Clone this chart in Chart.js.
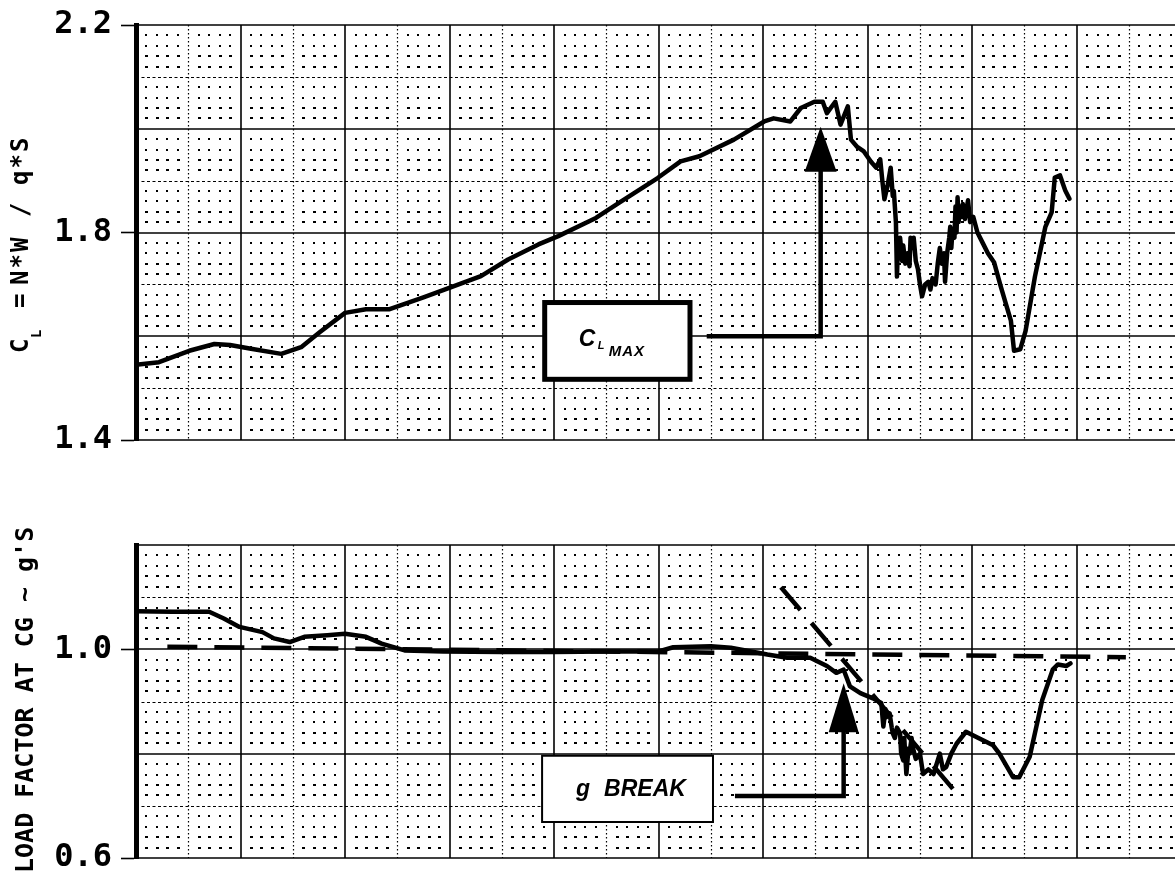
<!DOCTYPE html>
<html>
<head>
<meta charset="utf-8">
<script src="https://cdn.jsdelivr.net/npm/chart.js@4.4.1/dist/chart.umd.min.js"></script>
<style>
  body { margin: 0; background: #fff; }
  canvas { position: absolute; left: 0; display: block; }
  #cl-chart { top: 0; }
  #nz-chart { top: 460px; }
</style>
</head>
<body>
<canvas id="cl-chart" width="1175" height="460"></canvas>
<canvas id="nz-chart" width="1175" height="418"></canvas>
<script>
// time axis has no labels in the original, so x is in grid units (one solid line = 1)
const clX = [0, 0.22, 0.51, 0.75, 0.90, 1.10, 1.39, 1.58, 1.76, 2.00, 2.20, 2.42, 2.75, 3.01, 3.30, 3.56, 3.85, 4.04,
  4.40, 4.62, 4.99, 5.21, 5.39, 5.72, 6.01, 6.10, 6.26, 6.36, 6.49, 6.57, 6.61, 6.69, 6.74, 6.81, 6.84, 6.90, 6.96,
  7.03, 7.08, 7.12, 7.14, 7.16, 7.19, 7.22, 7.24, 7.25, 7.27, 7.28, 7.29, 7.30, 7.31, 7.33, 7.34, 7.36, 7.38, 7.40,
  7.41, 7.43, 7.44, 7.46, 7.48, 7.50, 7.52, 7.55, 7.58, 7.60, 7.62, 7.65, 7.67, 7.69, 7.71, 7.73, 7.74, 7.76, 7.78,
  7.79, 7.80, 7.81, 7.83, 7.84, 7.85, 7.86, 7.87, 7.88, 7.90, 7.91, 7.93, 7.95, 7.96, 7.98, 8.01, 8.05, 8.10,
  8.15, 8.21, 8.27, 8.32, 8.37, 8.40, 8.46, 8.51, 8.60, 8.70, 8.76, 8.79, 8.84, 8.89, 8.93];
const clY = [1.545, 1.550, 1.572, 1.585, 1.583, 1.576, 1.566, 1.579, 1.608, 1.645, 1.652, 1.652, 1.675, 1.694, 1.716,
  1.748, 1.777, 1.793, 1.828, 1.857, 1.905, 1.937, 1.947, 1.979, 2.014, 2.020, 2.014, 2.040, 2.052, 2.052, 2.030,
  2.052, 2.008, 2.043, 1.979, 1.965, 1.957, 1.937, 1.925, 1.941, 1.900, 1.864, 1.890, 1.925, 1.870, 1.880, 1.820,
  1.715, 1.780, 1.750, 1.790, 1.745, 1.775, 1.740, 1.760, 1.735, 1.790, 1.770, 1.790, 1.745, 1.730, 1.700, 1.677,
  1.700, 1.705, 1.690, 1.712, 1.700, 1.740, 1.770, 1.740, 1.760, 1.705, 1.760, 1.790, 1.811, 1.770, 1.800, 1.790,
  1.850, 1.800, 1.868, 1.820, 1.850, 1.830, 1.855, 1.826, 1.850, 1.862, 1.820, 1.830, 1.800, 1.780, 1.760, 1.742,
  1.698, 1.664, 1.630, 1.572, 1.575, 1.610, 1.715, 1.811, 1.839, 1.906, 1.910, 1.881, 1.865];

const nzX = [0, 0.35, 0.70, 0.84, 0.99, 1.21, 1.32, 1.47, 1.61, 1.83, 2.00, 2.20, 2.35, 2.57, 2.94, 3.50, 4.00, 4.50,
  5.00, 5.14, 5.50, 5.69, 6.04, 6.23, 6.45, 6.61, 6.70, 6.77, 6.83, 6.93, 7.05, 7.13, 7.15, 7.17, 7.18, 7.21, 7.23,
  7.24, 7.26, 7.28, 7.31, 7.32, 7.34, 7.35, 7.37, 7.39, 7.40, 7.42, 7.43, 7.46, 7.50, 7.53, 7.58, 7.63, 7.69, 7.72,
  7.75, 7.80, 7.85, 7.94, 8.04, 8.20, 8.26, 8.39, 8.45, 8.55, 8.67, 8.77, 8.82, 8.90, 8.94];
const nzY = [1.073, 1.072, 1.072, 1.059, 1.043, 1.033, 1.021, 1.014, 1.024, 1.027, 1.030, 1.024, 1.011, 0.998, 0.996,
  0.995, 0.995, 0.996, 0.996, 1.004, 1.006, 1.003, 0.990, 0.984, 0.984, 0.968, 0.955, 0.961, 0.929, 0.916, 0.906,
  0.897, 0.852, 0.885, 0.870, 0.877, 0.850, 0.839, 0.830, 0.850, 0.839, 0.800, 0.787, 0.830, 0.761, 0.810, 0.800,
  0.830, 0.813, 0.790, 0.800, 0.761, 0.770, 0.761, 0.800, 0.770, 0.774, 0.800, 0.819, 0.842, 0.832, 0.816, 0.800,
  0.755, 0.755, 0.794, 0.903, 0.961, 0.971, 0.968, 0.973];

// fairing lines on the load factor plot
const oneGX = [0.30, 9.47];
const oneGY = [1.005, 0.985];
const breakX = [6.17, 7.83];
const breakY = [1.119, 0.729];

const clTicks = [1.4, 1.8, 2.2];
const nzTicks = [0.6, 1.0];

// callouts: box [x0, x1, y0, y1] and leader path ending at the arrow tip
const clMaxBox = [3.91, 5.30, 1.517, 1.665];
const clMaxPath = [[5.46, 1.6], [6.55, 1.6], [6.55, 2.004]];
const gBreakBox = [3.885, 5.52, 0.669, 0.796];
const gBreakPath = [[5.73, 0.719], [6.77, 0.719], [6.77, 0.935]];

const toPts = (xs, ys) => xs.map((v, i) => ({x: v, y: ys[i]}));

const paperGrid = {
  id: 'paperGrid',
  beforeDatasetsDraw(chart, args, opts) {
    const {ctx, chartArea: a, scales: {x, y}} = chart;
    ctx.save();
    ctx.beginPath();
    ctx.rect(a.left, a.top - 2, a.right - a.left + 2, a.bottom - a.top + 4);
    ctx.clip();
    ctx.fillStyle = '#000';
    ctx.strokeStyle = '#000';
    const cols = Math.floor(x.max * 10 + 0.001);
    // minor dots
    for (let i = 0; i <= cols; i++) {
      if (i % 5 === 0) continue;
      const px = x.getPixelForValue(i / 10);
      for (let k = 0; k <= opts.rows; k++) {
        if (k % 5 === 0) continue;
        const py = y.getPixelForValue(opts.yMin + k * 0.02);
        ctx.fillRect(Math.round(px) - 1, Math.round(py) - 1, (k % 5 < 3) ? 3 : 2, 2);
      }
    }
    // dotted half lines
    ctx.lineWidth = 1.2;
    ctx.setLineDash([1.6, 2.4]);
    for (let i = 5; i <= cols; i += 10) {
      const px = Math.round(x.getPixelForValue(i / 10)) + 0.5;
      ctx.beginPath(); ctx.moveTo(px, a.top); ctx.lineTo(px, a.bottom); ctx.stroke();
    }
    ctx.setLineDash([3, 2.5]);
    for (let k = 5; k <= opts.rows; k += 10) {
      const py = Math.round(y.getPixelForValue(opts.yMin + k * 0.02)) + 0.5;
      ctx.beginPath(); ctx.moveTo(a.left, py); ctx.lineTo(a.right, py); ctx.stroke();
    }
    // solid major lines
    ctx.setLineDash([]);
    ctx.lineWidth = 1.6;
    for (let i = 10; i <= cols; i += 10) {
      const px = Math.round(x.getPixelForValue(i / 10));
      ctx.beginPath(); ctx.moveTo(px, a.top); ctx.lineTo(px, a.bottom); ctx.stroke();
    }
    for (let k = 0; k <= opts.rows; k += 10) {
      const py = Math.round(y.getPixelForValue(opts.yMin + k * 0.02));
      ctx.beginPath(); ctx.moveTo(a.left, py); ctx.lineTo(a.right, py); ctx.stroke();
    }
    ctx.restore();
  }
};

const callouts = {
  id: 'callouts',
  afterDatasetsDraw(chart, args, opts) {
    const {ctx, scales: {x, y}} = chart;
    const b = opts.box;
    const l = x.getPixelForValue(b[0]), r = x.getPixelForValue(b[1]);
    const t = y.getPixelForValue(b[3]), bt = y.getPixelForValue(b[2]);
    ctx.save();
    ctx.fillStyle = '#fff';
    ctx.fillRect(l, t, r - l, bt - t);
    ctx.strokeStyle = '#000';
    ctx.lineWidth = opts.boxWidth;
    ctx.strokeRect(l, t, r - l, bt - t);

    // leader line and arrow
    const pts = opts.path.map(p => [x.getPixelForValue(p[0]), y.getPixelForValue(p[1])]);
    const tip = pts[pts.length - 1];
    ctx.lineWidth = 4.5;
    ctx.lineJoin = 'miter';
    ctx.beginPath();
    ctx.moveTo(pts[0][0], pts[0][1]);
    for (let i = 1; i < pts.length - 1; i++) ctx.lineTo(pts[i][0], pts[i][1]);
    ctx.lineTo(tip[0], tip[1] + opts.head - 2);
    ctx.stroke();
    ctx.fillStyle = '#000';
    ctx.beginPath();
    ctx.moveTo(tip[0], tip[1]);
    ctx.lineTo(tip[0] - opts.headHalf, tip[1] + opts.head);
    ctx.lineTo(tip[0] + opts.headHalf, tip[1] + opts.head);
    ctx.closePath();
    ctx.fill();

    opts.label(ctx, l, t);
    ctx.restore();
  }
};

const sideTitle = {
  id: 'sideTitle',
  afterDraw(chart, args, opts) {
    const ctx = chart.ctx;
    ctx.save();
    ctx.fillStyle = '#000';
    ctx.translate(opts.x, opts.y);
    ctx.rotate(-Math.PI / 2);
    ctx.textBaseline = 'alphabetic';
    opts.draw(ctx);
    ctx.restore();
  }
};

const yAxis = (min, max, tickVals) => ({
  min: min,
  max: max,
  afterFit: (s) => { s.width = 136; },
  afterBuildTicks: (s) => { s.ticks = tickVals.map(v => ({value: v})); },
  ticks: {
    color: '#000',
    padding: 9,
    font: {family: 'DejaVu Sans Mono', size: 32, weight: 'bold', lineHeight: 0.6},
    callback: (v) => Number(v).toFixed(1)
  },
  grid: {drawOnChartArea: false, drawTicks: true, tickLength: 15, tickWidth: 1.6, tickColor: '#000'},
  border: {display: true, width: 5, color: '#000'}
});

const xAxis = {type: 'linear', min: 0, max: 9.94, display: false};

const trace = (pts, width) => ({
  data: pts,
  borderColor: '#000',
  borderWidth: width,
  pointRadius: 0,
  tension: 0,
  borderJoinStyle: 'round',
  borderCapStyle: 'round'
});

const dashed = (pts) => ({
  data: pts,
  borderColor: '#000',
  borderWidth: 4.5,
  borderDash: [30, 17],
  pointRadius: 0,
  tension: 0
});

const clChart = new Chart(document.getElementById('cl-chart'), {
  type: 'line',
  plugins: [paperGrid, callouts, sideTitle],
  data: {datasets: [trace(toPts(clX, clY), 4.5)]},
  options: {
    responsive: false,
    animation: false,
    devicePixelRatio: 1,
    layout: {padding: {top: 25, bottom: 20, left: 0, right: 0}},
    scales: {x: xAxis, y: yAxis(1.4, 2.2, clTicks)},
    plugins: {
      legend: {display: false},
      tooltip: {enabled: false},
      paperGrid: {yMin: 1.4, rows: 40},
      callouts: {
        box: clMaxBox, path: clMaxPath, boxWidth: 5, head: 45, headHalf: 16,
        label: (ctx, l, t) => {
          ctx.fillStyle = '#000';
          ctx.font = 'italic bold 23px "Liberation Sans"';
          ctx.fillText('C', l + 34, t + 43);
          ctx.font = 'italic bold 11px "Liberation Sans"';
          ctx.fillText('L', l + 53, t + 46);
          ctx.font = 'italic bold 15px "Liberation Sans"';
          ctx.letterSpacing = '1px';
          ctx.fillText('MAX', l + 64, t + 53);
        }
      },
      sideTitle: {
        x: 28, y: 353,
        draw: (ctx) => {
          ctx.font = 'bold 24px "DejaVu Sans Mono"';
          ctx.fillText('C', 0, 0);
          ctx.font = 'bold 14px "DejaVu Sans Mono"';
          ctx.fillText('L', 15, 13);
          ctx.font = 'bold 24px "DejaVu Sans Mono"';
          ctx.fillText('=', 45, 0);
          ctx.letterSpacing = '2px';
          ctx.fillText('N*W', 68, 0);
          ctx.fillText('/', 136, 0);
          ctx.fillText('q*S', 168, 0);
        }
      }
    }
  }
});

const nzChart = new Chart(document.getElementById('nz-chart'), {
  type: 'line',
  plugins: [paperGrid, callouts, sideTitle],
  data: {
    datasets: [
      trace(toPts(nzX, nzY), 4.5),
      dashed(toPts(oneGX, oneGY)),
      dashed(toPts(breakX, breakY))
    ]
  },
  options: {
    responsive: false,
    animation: false,
    devicePixelRatio: 1,
    layout: {padding: {top: 85, bottom: 20, left: 0, right: 0}},
    scales: {x: xAxis, y: yAxis(0.6, 1.2, nzTicks)},
    plugins: {
      legend: {display: false},
      tooltip: {enabled: false},
      paperGrid: {yMin: 0.6, rows: 30},
      callouts: {
        box: gBreakBox, path: gBreakPath, boxWidth: 2, head: 49, headHalf: 15,
        label: (ctx, l, t) => {
          ctx.fillStyle = '#000';
          ctx.font = 'italic bold 23px "Liberation Sans"';
          ctx.fillText('g', l + 34, t + 40);
          ctx.fillText('BREAK', l + 62, t + 40);
        }
      },
      sideTitle: {
        x: 33, y: 413,
        draw: (ctx) => {
          ctx.font = 'bold 25px "DejaVu Sans Mono"';
          ctx.fillText("LOAD FACTOR AT CG ~ g'S", 0, 0);
        }
      }
    }
  }
});
</script>
</body>
</html>
